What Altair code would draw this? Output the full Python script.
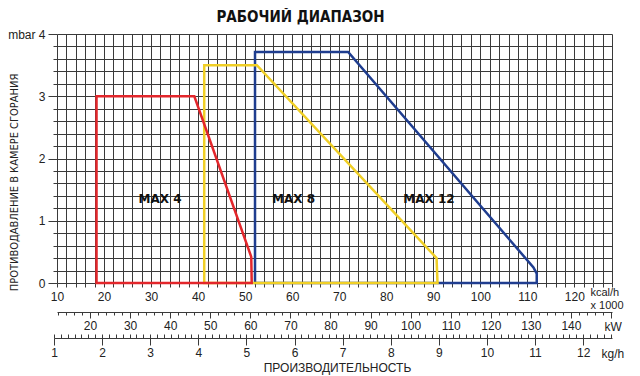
import altair as alt
import pandas as pd

TITLE = "РАБОЧИЙ ДИАПАЗОН"
Y_TITLE = "ПРОТИВОДАВЛЕНИЕ В КАМЕРЕ СГОРАНИЯ"
X_TITLE = "ПРОИЗВОДИТЕЛЬНОСТЬ"

# operating ranges (x: kcal/h x1000, y: mbar)
max4_x = [18.4, 18.4, 39.2, 51.3, 51.4, 18.4]
max4_y = [0.0, 3.0, 3.0, 0.42, 0.0, 0.0]
max8_x = [41.3, 41.3, 52.5, 90.7, 90.9, 41.3]
max8_y = [0.0, 3.5, 3.5, 0.4, 0.0, 0.0]
max12_x = [52.1, 52.1, 71.9, 111.3, 112.0, 112.0, 52.1]
max12_y = [0.0, 3.71, 3.71, 0.25, 0.15, 0.0, 0.0]

model_names = ["MAX 4", "MAX 8", "MAX 12"]
label_x = [31.9, 60.3, 89.1]
label_y = [1.35, 1.35, 1.35]
colors = {"MAX 4": "#e3262b", "MAX 8": "#f0cf25", "MAX 12": "#1f3d8f"}

kcal_domain = [10, 128]
kcal_ticks = list(range(10, 129, 2))
kw_domain = [11.77, 150.24]
kw_ticks = list(range(12, 151, 2))
kgh_domain = [1.0, 12.6]
kgh_major = list(range(1, 13))
kgh_minor = [round(1 + i / 7, 4) for i in range(0, 82)]
mbar_ticks = [round(i * 0.2, 1) for i in range(21)]

GRID = "#3a3a3a"
FONT = "Liberation Sans"
NARROW = "DejaVu Sans Condensed, Liberation Sans, sans-serif"
W, H = 555, 249

xscale = alt.Scale(domain=kcal_domain, nice=False, zero=False)
yscale = alt.Scale(domain=[0, 4], nice=False, zero=False)

kcal_axis = alt.Axis(
    values=kcal_ticks, tickCount=500, grid=True, gridColor=GRID, gridWidth=1, gridOpacity=1,
    domain=False, tickSize=4, tickColor=GRID, tickWidth=1,
    labelExpr="datum.value % 10 === 0 ? datum.label : ''",
    labelFont=FONT, labelFontSize=12, labelColor="#222", labelPadding=4,
    labelOverlap=False, labelFlush=False, format="d",
    title=["kcal/h", "x 1000"], titleX=533, titleY=3, titleAlign="left",
    titleBaseline="top", titleAngle=0, titleFont=FONT, titleFontSize=11,
    titleFontWeight="normal", titleColor="#222", titleLineHeight=13,
)
y_axis = alt.Axis(
    values=mbar_ticks, tickCount=500, grid=True, gridColor=GRID, gridWidth=1, gridOpacity=1,
    domain=False, tickColor=GRID, tickWidth=1,
    tickSize={"condition": {"test": "datum.value % 1 === 0", "value": 9}, "value": 4},
    labelExpr="datum.value === 4 ? 'mbar   4' : (datum.value % 1 === 0 ? format(datum.value, 'd') : '')",
    labelFont=FONT, labelFontSize=12, labelColor="#222", labelPadding=3,
    labelOverlap=False, labelFlush=False,
    title=Y_TITLE, titleX=-43, titleY=148, titleAngle=270, titleAlign="center",
    titleBaseline="middle", titleFont=NARROW, titleFontSize=11,
    titleFontWeight="normal", titleColor="#222",
)


def poly(name, xs, ys):
    df = pd.DataFrame({"x": xs, "y": ys, "i": list(range(len(xs)))})
    return alt.Chart(df).mark_line(
        color=colors[name], strokeWidth=2.5, strokeJoin="miter", strokeCap="square"
    ).encode(
        x=alt.X("x:Q", scale=xscale, axis=kcal_axis),
        y=alt.Y("y:Q", scale=yscale, axis=y_axis),
        order="i:Q",
    )


lab_df = pd.DataFrame({"x": label_x, "y": label_y, "t": model_names})
labels = alt.Chart(lab_df).mark_text(
    font="DejaVu Sans", fontWeight="bold", fontSize=12, color="#111"
).encode(
    x=alt.X("x:Q", scale=xscale, axis=kcal_axis),
    y=alt.Y("y:Q", scale=yscale, axis=y_axis),
    text="t:N",
)

main = alt.layer(
    poly("MAX 12", max12_x, max12_y),
    poly("MAX 8", max8_x, max8_y),
    poly("MAX 4", max4_x, max4_y),
    labels,
)

kw_df = pd.DataFrame({"v": kw_ticks})
kw_layer = alt.Chart(kw_df).mark_point(opacity=0).encode(
    x=alt.X("v:Q", scale=alt.Scale(domain=kw_domain, nice=False, zero=False),
            axis=alt.Axis(
                orient="bottom", offset=29, values=kw_ticks, tickCount=500, grid=False,
                domain=True, domainColor=GRID, domainWidth=1,
                tickColor=GRID, tickWidth=1,
                tickSize={"condition": {"test": "datum.value % 10 === 0", "value": 6}, "value": 3},
                labelExpr="(datum.value % 10 === 0 && datum.value < 150) ? datum.label : ''",
                labelFont=FONT, labelFontSize=12, labelColor="#222", labelPadding=2,
                labelOverlap=False, labelFlush=False, format="d",
                title="kW", titleX=547, titleY=14, titleAlign="left",
                titleBaseline="middle", titleAngle=0, titleFont=FONT, titleFontSize=12,
                titleFontWeight="normal", titleColor="#222",
            ))
)

kgh_df = pd.DataFrame({"v": kgh_major})
kgh_scale = alt.Scale(domain=kgh_domain, range=[-3, W], nice=False, zero=False)
kgh_layer = alt.Chart(kgh_df).mark_point(opacity=0).encode(
    x=alt.X("v:Q", scale=kgh_scale,
            axis=alt.Axis(
                orient="bottom", offset=55, values=kgh_major, tickCount=500, grid=False,
                domain=True, domainColor=GRID, domainWidth=1,
                tickColor=GRID, tickWidth=1, tickSize=7,
                labelFont=FONT, labelFontSize=12, labelColor="#222", labelPadding=2,
                labelOverlap=False, labelFlush=False, format="d",
                title="kg/h", titleX=544, titleY=15, titleAlign="left",
                titleBaseline="middle", titleAngle=0, titleFont=FONT, titleFontSize=12,
                titleFontWeight="normal", titleColor="#222",
            ))
)

kgh_minor_df = pd.DataFrame({"v": kgh_minor})
kgh_minor_layer = alt.Chart(kgh_minor_df).mark_point(opacity=0).encode(
    x=alt.X("v:Q", scale=kgh_scale,
            axis=alt.Axis(
                orient="top", offset=-(H + 55), values=kgh_minor, tickCount=500, grid=False,
                domain=False, tickColor=GRID, tickWidth=1, tickSize=4,
                labels=False,
                title=X_TITLE, titleX=280, titleY=29, titleAlign="center",
                titleBaseline="middle", titleAngle=0, titleFont=FONT, titleFontSize=12,
                titleFontWeight="normal", titleColor="#222",
            ))
)

chart = alt.layer(main, kw_layer, kgh_layer, kgh_minor_layer).resolve_scale(
    x="independent"
).properties(
    width=W, height=H, background="white",
    autosize=alt.AutoSizeParams(type="none"),
    padding={"left": 49, "top": 26, "right": 20, "bottom": 92},
    title=alt.Title(TITLE, font=NARROW, fontSize=15, fontWeight="bold",
                    color="#111", anchor="middle", baseline="alphabetic",
                    offset=11, dx=-34, dy=20),
).configure_view(stroke=None)

chart.save("out.html", embed_options={"renderer": "svg", "actions": False})
